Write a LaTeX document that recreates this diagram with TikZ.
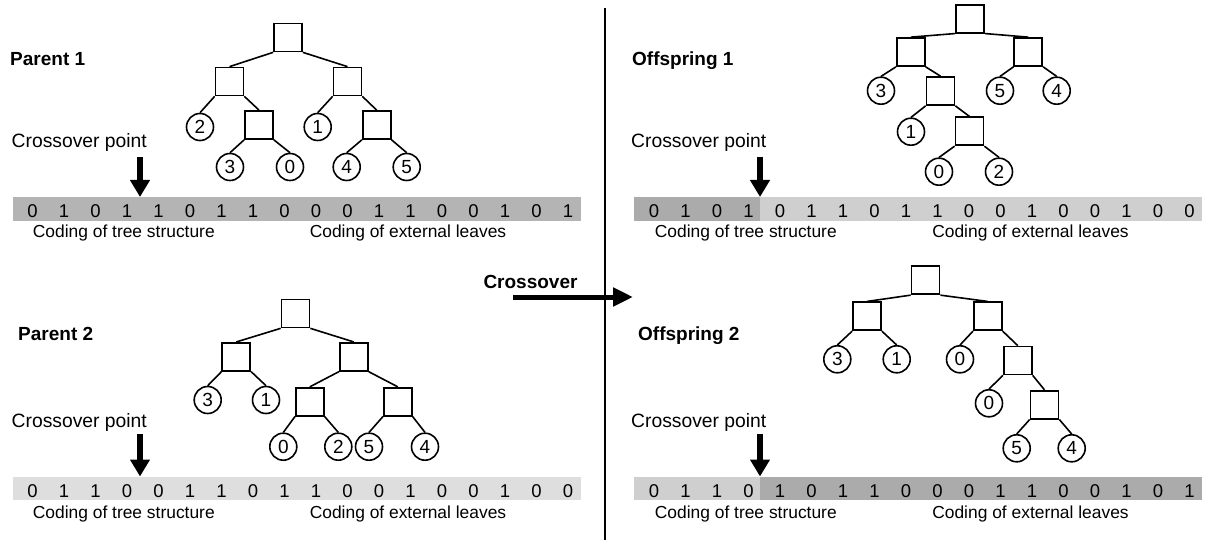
\documentclass[tikz,border=0pt]{standalone}
\usepackage{fontspec}
\setmainfont{Liberation Sans}
\usetikzlibrary{arrows.meta}
\definecolor{barA}{HTML}{B4B4B4}
\definecolor{barB}{HTML}{DEDEDE}
\definecolor{barDark}{HTML}{ABABAB}
\definecolor{barLight}{HTML}{CFCFCF}
\tikzset{
 sq/.style={draw, line width=1.7pt, minimum size=28pt, inner sep=0pt},
 lf/.style={draw, circle, line width=1.6pt, minimum size=27pt, inner sep=0pt, font=\fontsize{19}{19}\selectfont},
 ed/.style={line width=1.6pt},
 dig/.style={anchor=base, font=\fontsize{18.5}{18}\selectfont, inner sep=0pt},
 lbl/.style={anchor=base, font=\fontsize{17.4}{20}\selectfont, inner sep=0pt},
 cpt/.style={anchor=base west, font=\fontsize{19.3}{22}\selectfont, inner sep=0pt},
 ttl/.style={anchor=base west, font=\bfseries\fontsize{19}{22}\selectfont, inner sep=0pt},
 cparrow/.style={line width=6pt, -{Triangle[length=17pt,width=19pt]}},
}
\begin{document}
\begin{tikzpicture}[x=1pt,y=-1pt]
\useasboundingbox (0,0) rectangle (1209,545);
\fill[white] (0,0) rectangle (1209,545);

% ---------- bars ----------
\fill[barA] (12.5,197) rectangle (580.5,221);
\fill[barDark] (633.5,197) rectangle (760,221);
\fill[barLight] (760,197) rectangle (1201.5,221);
\fill[barB] (12.5,476.5) rectangle (580.5,499.5);
\fill[barLight] (633.5,476.5) rectangle (760,499.5);
\fill[barDark] (760,476.5) rectangle (1201.5,499.5);

\foreach \b [count=\i from 0] in {0,1,0,1,1,0,1,1,0,0,0,1,1,0,0,1,0,1}
  \node[dig] (pa\i) at ({32.5+31.5*\i},218) {\b};
\foreach \b [count=\i from 0] in {0,1,0,1,0,1,1,0,1,1,0,0,1,0,0,1,0,0}
  \node[dig] (oa\i) at ({654+31.5*\i},218) {\b};
\foreach \b [count=\i from 0] in {0,1,1,0,0,1,1,0,1,1,0,0,1,0,0,1,0,0}
  \node[dig] (pb\i) at ({32.5+31.5*\i},497) {\b};
\foreach \b [count=\i from 0] in {0,1,1,0,1,0,1,1,0,0,0,1,1,0,0,1,0,1}
  \node[dig] (ob\i) at ({654+31.5*\i},497) {\b};

% ---------- labels ----------
\node[lbl] (pat) at (123.8,237.5) {Coding of tree structure};
\node[lbl] (pal) at (408,237.5) {Coding of external leaves};
\node[lbl] (oat) at (745.8,237.5) {Coding of tree structure};
\node[lbl] (oal) at (1030.5,237.5) {Coding of external leaves};
\node[lbl] (pbt) at (123.8,518) {Coding of tree structure};
\node[lbl] (pbl) at (408,518) {Coding of external leaves};
\node[lbl] (obt) at (745.8,518) {Coding of tree structure};
\node[lbl] (obl) at (1030.5,518) {Coding of external leaves};

\node[cpt] (pac) at (11.5,148) {Crossover point};
\node[cpt] (oac) at (631,148) {Crossover point};
\node[cpt] (pbc) at (11.5,427) {Crossover point};
\node[cpt] (obc) at (631,427) {Crossover point};

\node[ttl] (t1) at (10,66) {Parent 1};
\node[ttl] (t2) at (632,66) {Offspring 1};
\node[ttl] (t3) at (18,340) {Parent 2};
\node[ttl] (t4) at (638,340) {Offspring 2};

% crossover point arrows
\coordinate (pas) at (140,157); \coordinate (pae) at (140,197);
\coordinate (oas) at (760,157); \coordinate (oae) at (760,197);
\coordinate (pbs) at (140,434); \coordinate (pbe) at (140,476.5);
\coordinate (obs) at (760,434); \coordinate (obe) at (760,476.5);
\draw[cparrow] (pas) -- (pae);
\draw[cparrow] (oas) -- (oae);
\draw[cparrow] (pbs) -- (pbe);
\draw[cparrow] (obs) -- (obe);

% divider and main crossover arrow
\coordinate (vt) at (605,8); \coordinate (vb) at (605,540);
\draw[line width=1.5pt] (vt) -- (vb);
\node[anchor=base, font=\bfseries\fontsize{19}{22}\selectfont, inner sep=0pt] (cx) at (530.5,288) {Crossover};
\coordinate (cxs) at (513,297); \coordinate (cxe) at (633,297);
\draw[line width=5pt, -{Triangle[length=20pt,width=18pt]}] (cxs) -- (cxe);

% ---------- Parent 1 tree ----------
\node[sq] (a0) at (288,37.5) {};
\node[sq] (a1) at (229.5,81.5) {};
\node[sq] (a2) at (347.5,81.5) {};
\node[lf] (a3) at (200,127) {2};
\node[sq] (a4) at (259,125) {};
\node[lf] (a5) at (317.7,127) {1};
\node[sq] (a6) at (376.7,125) {};
\node[lf] (a7) at (230,167) {3};
\node[lf] (a8) at (290,167) {0};
\node[lf] (a9) at (346.7,167) {4};
\node[lf] (a10) at (406.7,167) {5};
\draw[ed] (a0.south west) -- (a1.north);
\draw[ed] (a0.south east) -- (a2.north);
\draw[ed] (a1.south west) -- (a3.north);
\draw[ed] (a1.south east) -- (a4.north);
\draw[ed] (a2.south west) -- (a5.north);
\draw[ed] (a2.south east) -- (a6.north);
\draw[ed] (a4.south west) -- (a7.north);
\draw[ed] (a4.south east) -- (a8.north);
\draw[ed] (a6.south west) -- (a9.north);
\draw[ed] (a6.south east) -- (a10.north);

% ---------- Offspring 1 tree ----------
\node[sq] (b0) at (970,18.7) {};
\node[sq] (b1) at (910.8,52) {};
\node[sq] (b2) at (1028.3,52) {};
\node[lf] (b3) at (881,90.7) {3};
\node[sq] (b4) at (940.5,91) {};
\node[lf] (b5) at (1000,90.7) {5};
\node[lf] (b6) at (1056.7,90.7) {4};
\node[lf] (b7) at (911,131.7) {1};
\node[sq] (b8) at (969.5,131.3) {};
\node[lf] (b9) at (939,171.7) {0};
\node[lf] (b10) at (999,171.7) {2};
\draw[ed] (b0.south west) -- (b1.north);
\draw[ed] (b0.south east) -- (b2.north);
\draw[ed] (b1.south west) -- (b3.north);
\draw[ed] (b1.south east) -- (b4.north);
\draw[ed] (b2.south west) -- (b5.north);
\draw[ed] (b2.south east) -- (b6.north);
\draw[ed] (b4.south west) -- (b7.north);
\draw[ed] (b4.south east) -- (b8.north);
\draw[ed] (b8.south west) -- (b9.north);
\draw[ed] (b8.south east) -- (b10.north);

% ---------- Parent 2 tree ----------
\node[sq] (c0) at (295.5,313.5) {};
\node[sq] (c1) at (236.3,356.8) {};
\node[sq] (c2) at (353.8,356.8) {};
\node[lf] (c3) at (207.7,400) {3};
\node[lf] (c4) at (266,400) {1};
\node[sq] (c5) at (309.8,401.7) {};
\node[sq] (c6) at (397.8,401.7) {};
\node[lf] (c7) at (283.3,446.7) {0};
\node[lf] (c8) at (338.3,446.7) {2};
\node[lf] (c9) at (369,446.7) {5};
\node[lf] (c10) at (425,446.7) {4};
\draw[ed] (c0.south west) -- (c1.north);
\draw[ed] (c0.south east) -- (c2.north);
\draw[ed] (c1.south west) -- (c3.north);
\draw[ed] (c1.south east) -- (c4.north);
\draw[ed] (c2.south west) -- (c5.north);
\draw[ed] (c2.south east) -- (c6.north);
\draw[ed] (c5.south west) -- (c7.north);
\draw[ed] (c5.south east) -- (c8.north);
\draw[ed] (c6.south west) -- (c9.north);
\draw[ed] (c6.south east) -- (c10.north);

% ---------- Offspring 2 tree ----------
\node[sq] (d0) at (925.5,280.3) {};
\node[sq] (d1) at (867,316.3) {};
\node[sq] (d2) at (987.8,316.3) {};
\node[lf] (d3) at (837.3,359.3) {3};
\node[lf] (d4) at (896.7,359.3) {1};
\node[lf] (d5) at (960,359.3) {0};
\node[sq] (d6) at (1017.8,360.5) {};
\node[lf] (d7) at (989,403.3) {0};
\node[sq] (d8) at (1044.5,404.7) {};
\node[lf] (d9) at (1016.7,448.3) {5};
\node[lf] (d10) at (1071.7,448.3) {4};
\draw[ed] (d0.south west) -- (d1.north);
\draw[ed] (d0.south east) -- (d2.north);
\draw[ed] (d1.south west) -- (d3.north);
\draw[ed] (d1.south east) -- (d4.north);
\draw[ed] (d2.south west) -- (d5.north);
\draw[ed] (d2.south east) -- (d6.north);
\draw[ed] (d6.south west) -- (d7.north);
\draw[ed] (d6.south east) -- (d8.north);
\draw[ed] (d8.south west) -- (d9.north);
\draw[ed] (d8.south east) -- (d10.north);
\end{tikzpicture}
\end{document}
